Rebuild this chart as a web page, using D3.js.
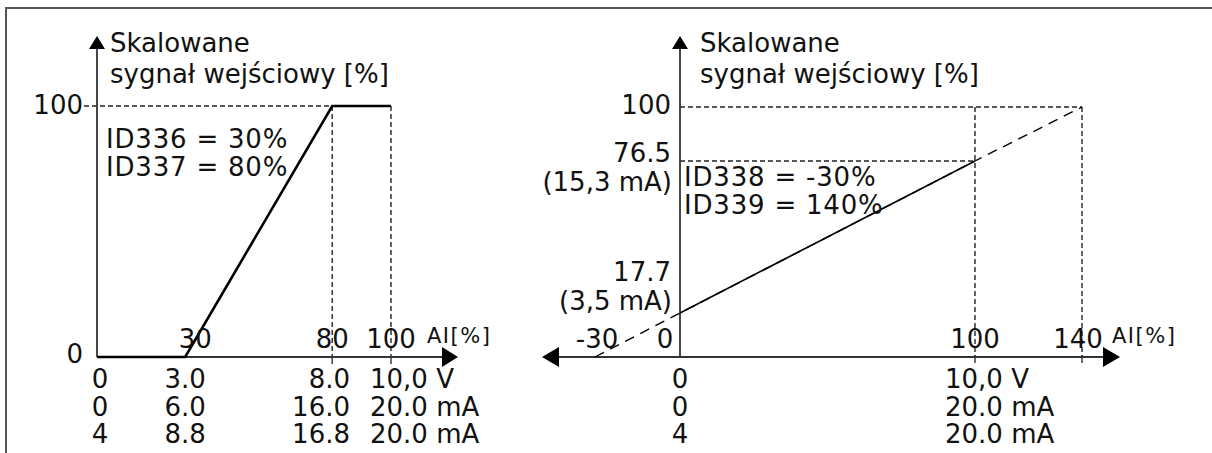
<!DOCTYPE html>
<html><head><meta charset="utf-8">
<script src="https://cdn.jsdelivr.net/npm/d3@7"></script>
<style>
html,body{margin:0;padding:0;background:#fff;}
text{font-family:"DejaVu Sans",Verdana,sans-serif;fill:#111;}
</style></head>
<body><div id="chart"></div>
<script>
// ---------- data ----------
const yTitle1 = "Skalowane";
const yTitle2 = "sygnał wejściowy [%]";
const xTitle = "AI[%]";

// left panel
const leftTickValues = [30, 80, 100];
const leftTickLabels = ["30", "80", "100"];
const leftYTicks = [0, 100];
const leftCurveX = [0, 30, 80, 100];
const leftCurveY = [0, 0, 100, 100];
const leftRowPos = [0, 30, 80, 100];
const leftRowVolt = ["0", "3.0", "8.0", "10,0 V"];
const leftRowCur0 = ["0", "6.0", "16.0", "20.0 mA"];
const leftRowCur4 = ["4", "8.8", "16.8", "20.0 mA"];
const leftParams = ["ID336 = 30%", "ID337 = 80%"];

// right panel
const rightTickValues = [-30, 0, 100, 140];
const rightTickLabels = ["-30", "0", "100", "140"];
const rightLineX = [-30, 0, 100, 140];
const rightLineY = [0, 17.7, 76.5, 100];
const rightYLabels = ["100", "76.5", "17.7"];
const rightYValues = [100, 76.5, 17.7];
const rightYSub = ["", "(15,3 mA)", "(3,5 mA)"];
const rightRowPos = [0, 100];
const rightRowVolt = ["0", "10,0 V"];
const rightRowCur0 = ["0", "20.0 mA"];
const rightRowCur4 = ["4", "20.0 mA"];
const rightParams = ["ID338 = -30%", "ID339 = 140%"];

// ---------- drawing ----------
const W = 1212, H = 453;
const FS = 26;
const svg = d3.select("#chart").append("svg").attr("width", W).attr("height", H);

// frame
svg.append("path").attr("d", `M6,${H+5} L6,8 L${W+5},8`)
  .attr("fill", "none").attr("stroke", "#555").attr("stroke-width", 2);

const AX = "#333";
function dashed(g, x1, y1, x2, y2) {
  g.append("line").attr("x1", x1).attr("y1", y1).attr("x2", x2).attr("y2", y2)
    .attr("stroke", "#222").attr("stroke-width", 1.4).attr("stroke-dasharray", "5,3");
}
function upArrow(g, x, tipY) {
  g.append("path").attr("d", `M${x},${tipY} L${x-8},${tipY+13} L${x+8},${tipY+13} Z`).attr("fill", "#000");
}
function txt(g, x, y, t, anchor, fs) {
  return g.append("text").attr("x", x).attr("y", y).attr("text-anchor", anchor || "start")
    .attr("font-size", fs || FS).text(t);
}

// ===== LEFT =====
const lx = d3.scaleLinear().domain([0, 100]).range([97, 391]);
const ly = d3.scaleLinear().domain([0, 100]).range([357, 106]);
const L = svg.append("g");
const arrowTip = 36;

dashed(L, 84, ly(100), lx(80), ly(100));
dashed(L, lx(80), ly(100), lx(80), ly(0));
dashed(L, lx(100), ly(100), lx(100), ly(0));

L.append("line").attr("x1", lx(0)).attr("y1", ly(0)).attr("x2", lx(0)).attr("y2", arrowTip + 12)
  .attr("stroke", AX).attr("stroke-width", 1.8);
upArrow(L, lx(0), arrowTip);
const lxAxisEnd = 442;
L.append("line").attr("x1", lx(0)).attr("y1", ly(0)).attr("x2", lxAxisEnd).attr("y2", ly(0))
  .attr("stroke", AX).attr("stroke-width", 1.8);
L.append("path").attr("d", `M${lxAxisEnd+16},${ly(0)} L${lxAxisEnd},${ly(0)-10} L${lxAxisEnd},${ly(0)+10} Z`).attr("fill", "#000");
L.selectAll(".tk").data([80, 100]).enter().append("line")
  .attr("x1", d => lx(d)).attr("x2", d => lx(d)).attr("y1", ly(0)).attr("y2", ly(0) + 7)
  .attr("stroke", AX).attr("stroke-width", 1.4);

const lineL = d3.line().x(d => lx(d[0])).y(d => ly(d[1]));
L.append("path").datum(leftCurveX.map((x, i) => [x, leftCurveY[i]]))
  .attr("d", lineL).attr("fill", "none").attr("stroke", "#000").attr("stroke-width", 2.6);

leftYTicks.forEach(d => txt(L, 83, ly(d) + (d === 0 ? 6 : 8), d, "end"));
txt(L, 110, 52, yTitle1);
txt(L, 110, 83, yTitle2);
leftParams.forEach((t, i) => txt(L, 106, 148 + i * 28, t).attr("letter-spacing", 0.8));
leftTickValues.forEach((d, i) => txt(L, lx(d) + (d === 30 ? 10 : 0), ly(0) - 9, leftTickLabels[i], "middle"));
txt(L, 427, 343, xTitle, "start", 21).attr("letter-spacing", 1.5);
[leftRowVolt, leftRowCur0, leftRowCur4].forEach((row, r) => {
  row.forEach((t, i) => {
    const p = leftRowPos[i];
    let x = lx(p), anchor = "middle";
    if (p === 0) x = lx(p) + 3;
    if (p === 80) { x = 350; anchor = "end"; }
    if (p === 100) { x = 370; anchor = "start"; }
    txt(L, x, ly(0) + 31 + r * 27.5, t, anchor);
  });
});

// ===== RIGHT =====
const rx = d3.scaleLinear().domain([-30, 0, 100, 140]).range([595, 680, 975, 1082]);
const ry = d3.scaleLinear().domain([0, 17.7, 76.5, 100]).range([357, 313, 161, 107]);
const R = svg.append("g");

dashed(R, rx(0), ry(100), rx(140), ry(100));
dashed(R, rx(0), ry(76.5), rx(100), ry(76.5));
dashed(R, rx(100), ry(100), rx(100), ry(0));
dashed(R, rx(140), ry(100), rx(140), ry(0));

R.append("line").attr("x1", rx(0)).attr("y1", ry(0)).attr("x2", rx(0)).attr("y2", arrowTip + 12)
  .attr("stroke", AX).attr("stroke-width", 1.8);
upArrow(R, rx(0), arrowTip);
const rxL = 559, rxR = 1103;
R.append("line").attr("x1", rxL).attr("y1", ry(0)).attr("x2", rxR).attr("y2", ry(0))
  .attr("stroke", AX).attr("stroke-width", 1.8);
R.append("path").attr("d", `M${rxR+17},${ry(0)} L${rxR},${ry(0)-10} L${rxR},${ry(0)+10} Z`).attr("fill", "#000");
R.append("path").attr("d", `M${rxL-17},${ry(0)} L${rxL},${ry(0)-10} L${rxL},${ry(0)+10} Z`).attr("fill", "#000");
R.selectAll(".tk").data([100, 140]).enter().append("line")
  .attr("x1", d => rx(d)).attr("x2", d => rx(d)).attr("y1", ry(0) - 2).attr("y2", ry(0) + 6)
  .attr("stroke", AX).attr("stroke-width", 1.4);

const pts = rightLineX.map((x, i) => [x, rightLineY[i]]);
const lineR = d3.line().x(d => rx(d[0])).y(d => ry(d[1]));
R.append("path").datum(pts).attr("d", lineR).attr("fill", "none")
  .attr("stroke", "#000").attr("stroke-width", 1.4).attr("stroke-dasharray", "10,7");
R.append("path").datum(pts.filter(d => d[0] >= 0 && d[0] <= 100)).attr("d", lineR).attr("fill", "none")
  .attr("stroke", "#000").attr("stroke-width", 1.6);

// y labels
txt(R, 671, ry(100) + 7, rightYLabels[0], "end");
txt(R, 671, ry(76.5) + 1, rightYLabels[1], "end");
txt(R, 672, ry(76.5) + 30, rightYSub[1], "end");
txt(R, 671, ry(17.7) - 32, rightYLabels[2], "end");
txt(R, 672, ry(17.7) - 3, rightYSub[2], "end");

txt(R, 700, 52, yTitle1);
txt(R, 700, 83, yTitle2);
rightParams.forEach((t, i) => txt(R, 684, 186 + i * 28, t).attr("letter-spacing", 0.8));
rightTickValues.forEach((d, i) =>
  txt(R, rx(d) + (d === 0 ? -15 : d === 140 ? -4 : d === -30 ? 2 : 0), ry(0) - 9, rightTickLabels[i], "middle"));
txt(R, 1112, 343, xTitle, "start", 21).attr("letter-spacing", 1.5);
[rightRowVolt, rightRowCur0, rightRowCur4].forEach((row, r) => {
  row.forEach((t, i) => {
    const p = rightRowPos[i];
    txt(R, p === 0 ? rx(0) : 945, ry(0) + 31 + r * 27.5, t, p === 0 ? "middle" : "start");
  });
});
</script>
</body></html>
